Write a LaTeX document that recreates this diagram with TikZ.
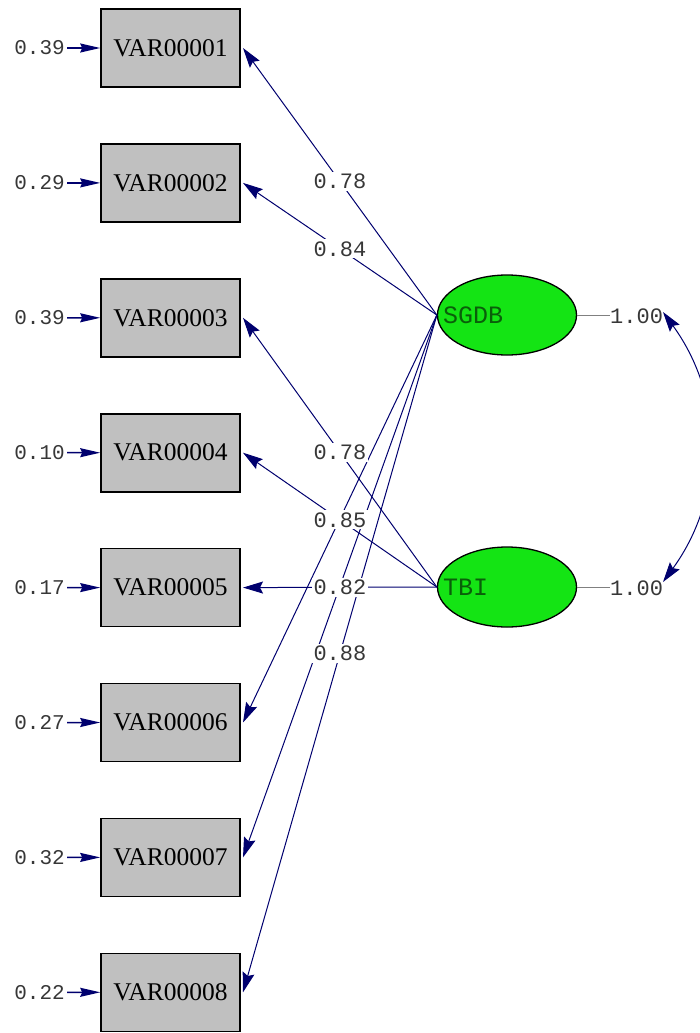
\documentclass[tikz,border=0pt]{standalone}
\usepackage{fontspec}
\setmainfont{Liberation Serif}
\newfontfamily\monofont{Liberation Mono}
\usetikzlibrary{shapes.geometric,arrows.meta,calc}
\definecolor{pathblue}{RGB}{0,0,110}
\definecolor{boxgray}{RGB}{192,192,192}
\definecolor{latgreen}{RGB}{20,228,20}
\definecolor{latlabel}{RGB}{10,95,10}
\definecolor{numgray}{RGB}{55,55,55}
\tikzset{
  obsbox/.style={draw=black, line width=1.6pt, fill=boxgray, minimum width=139pt,
    minimum height=78pt, inner sep=0pt, font=\fontsize{25.5}{25.5}\selectfont},
  latent/.style={ellipse, draw=black, line width=1.3pt, fill=latgreen,
    minimum width=139pt, minimum height=80pt, inner sep=0pt},
  latname/.style={anchor=west, inner sep=0pt, text=latlabel,
    font=\monofont\fontsize{25}{25}\selectfont},
  errlabel/.style={anchor=east, inner sep=0pt, text=numgray,
    font=\monofont\fontsize{21}{21}\selectfont},
  loadlabel/.style={fill=white, inner sep=2pt, text=numgray,
    font=\monofont\fontsize{22}{22}\selectfont},
  varlabel/.style={anchor=west, inner sep=0pt, text=numgray,
    font=\monofont\fontsize{22}{22}\selectfont},
  headtip/.tip={Stealth[length=20pt,width=12pt,inset=3pt]},
  errtip/.tip={Stealth[length=20pt,width=9pt,inset=2pt]},
  loading/.style={draw=pathblue, line width=1pt, -headtip},
  errarrow/.style={draw=pathblue, line width=1.5pt, -errtip},
  varline/.style={draw=gray, line width=0.8pt},
}
\begin{document}
\begin{tikzpicture}[x=1pt,y=-1pt]
\useasboundingbox (0,0) rectangle (699,1033);

% observed variables
\foreach \i in {1,...,8} {
  \pgfmathsetmacro{\cy}{48+134.9*(\i-1)}
  \node[obsbox] (v\i) at (170.5,\cy) {VAR0000\i};
  \coordinate (t\i) at (243,\cy);
}

% latent variables
\node[latent] (sgdb) at (507,315) {};
\node[latent] (tbi) at (507,587) {};

% error terms
\node[errlabel] (e1) at (65,48) {0.39};
\node[errlabel] (e2) at (65,182.9) {0.29};
\node[errlabel] (e3) at (65,317.8) {0.39};
\node[errlabel] (e4) at (65,452.7) {0.10};
\node[errlabel] (e5) at (65,587.6) {0.17};
\node[errlabel] (e6) at (65,722.5) {0.27};
\node[errlabel] (e7) at (65,857.4) {0.32};
\node[errlabel] (e8) at (65,992.3) {0.22};
\foreach \i in {1,...,8} {
  \draw[errarrow] ([xshift=2pt]e\i.east) -- (v\i.west);
}

% factor loadings
\draw[loading] (sgdb.west) -- (t1);
\draw[loading] (sgdb.west) -- (t2);
\draw[loading] (tbi.west) -- (t3);
\draw[loading] (tbi.west) -- (t4);
\draw[loading] (tbi.west) -- (t5);
\draw[loading] (sgdb.west) -- (t6);
\draw[loading] (sgdb.west) -- (t7);
\draw[loading] (sgdb.west) -- (t8);

\node[loadlabel] (l1) at ($(sgdb.west)!0.5!(t1)$) {0.78};
\node[loadlabel] (l2) at ($(sgdb.west)!0.5!(t2)$) {0.84};
\node[loadlabel] (l3) at ($(tbi.west)!0.5!(t3)$) {0.78};
\node[loadlabel] (l4) at ($(tbi.west)!0.5!(t4)$) {0.85};
\node[loadlabel] (l5) at ($(tbi.west)!0.5!(t5)$) {0.82};
\node[loadlabel] (l8) at ($(sgdb.west)!0.5!(t8)$) {0.88};

% latent names
\node[latname] (n1) at ([xshift=6pt]sgdb.west) {SGDB};
\node[latname] (n2) at ([xshift=6pt]tbi.west) {TBI};

% variances and covariance
\node[varlabel] (w1) at (610,316) {1.00};
\node[varlabel] (w2) at (610,588) {1.00};
\draw[varline] (sgdb.east) -- (w1.west |- sgdb.east);
\draw[varline] (tbi.east) -- (w2.west |- tbi.east);
\coordinate (ctop) at (663,312);
\coordinate (cbot) at (663,582);
\draw[draw=pathblue, line width=1pt, headtip-headtip] (ctop) to[bend left=36] (cbot);
\end{tikzpicture}
\end{document}
